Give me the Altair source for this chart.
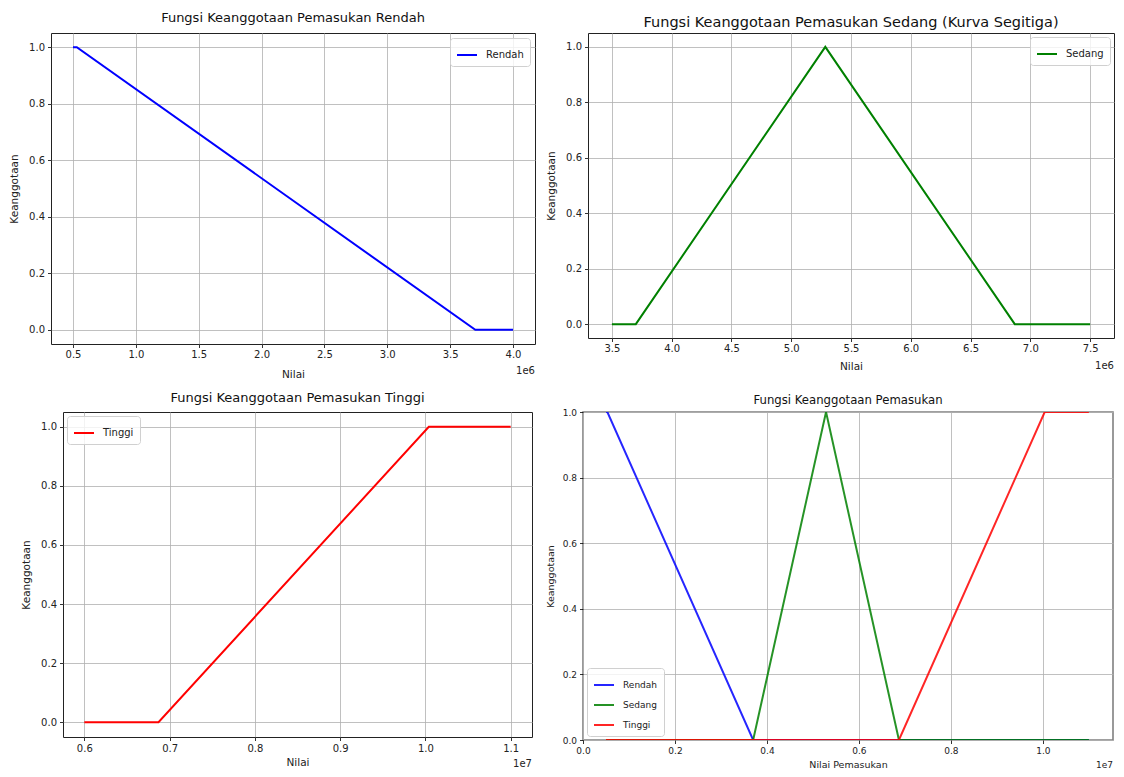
import altair as alt
import pandas as pd

FONT = "DejaVu Sans"

# ---- data ----
rendah_x = [500000, 530000, 3700000, 4000000]
rendah_y = [1, 1, 0, 0]
sedang_x = [3500000, 3700000, 5285000, 6870000, 7500000]
sedang_y = [0, 0, 1, 0, 0]
tinggi_x = [6000000, 6870000, 10040000, 11000000]
tinggi_y = [0, 0, 1, 1]

# combined plot, full universe
all_rendah_x = [500000, 530000, 3700000, 11000000]
all_rendah_y = [1, 1, 0, 0]
all_sedang_x = [500000, 3700000, 5285000, 6870000, 11000000]
all_sedang_y = [0, 0, 1, 0, 0]
all_tinggi_x = [500000, 6870000, 10040000, 11000000]
all_tinggi_y = [0, 0, 1, 1]

series_names = ["Rendah", "Sedang", "Tinggi"]
series_colors = ["#0000ff", "#008000", "#ff0000"]

y_ticks = [0.0, 0.2, 0.4, 0.6, 0.8, 1.0]
x_ticks_rendah = [500000, 1000000, 1500000, 2000000, 2500000, 3000000, 3500000, 4000000]
x_ticks_sedang = [3500000, 4000000, 4500000, 5000000, 5500000, 6000000, 6500000, 7000000, 7500000]
x_ticks_tinggi = [6000000, 7000000, 8000000, 9000000, 10000000, 11000000]
x_ticks_all = [0, 2000000, 4000000, 6000000, 8000000, 10000000]


def df(xs, ys, name):
    return pd.DataFrame({"x": xs, "y": ys, "seri": name})


def xaxis(ticks, div, title, fs=10, tp=5, lp=3):
    return alt.Axis(values=ticks, labelExpr=f"format(datum.value/{div}, '.1f')",
                    title=title, grid=True, gridColor="#b0b0b0", gridWidth=0.8,
                    domain=False, tickColor="black", tickSize=3.5, tickWidth=0.8,
                    labelFontSize=fs, titleFontSize=fs + 0.5, labelColor="#222",
                    titleColor="#222", titleFontWeight="normal", labelFont=FONT,
                    titleFont=FONT, labelPadding=lp, titlePadding=tp,
                    labelFlush=False, labelOverlap=False)


def yaxis(fs=10, tp=8, ext=24):
    return alt.Axis(values=y_ticks, format=".1f", title="Keanggotaan", grid=True,
                    gridColor="#b0b0b0", gridWidth=0.8, domain=False,
                    tickColor="black", tickSize=3.5, tickWidth=0.8,
                    labelFontSize=fs, titleFontSize=fs + 0.5, labelColor="#222",
                    titleColor="#222", titleFontWeight="normal", labelFont=FONT,
                    titleFont=FONT, labelPadding=3, titlePadding=tp,
                    minExtent=ext, maxExtent=ext, labelOverlap=False)


def legend(orient, fs=10, offset=4):
    return alt.Legend(orient=orient, title=None, symbolType="stroke", symbolSize=400,
                      symbolStrokeWidth=2, labelFontSize=fs, labelFont=FONT,
                      labelColor="#222", fillColor="rgba(255,255,255,0.8)",
                      strokeColor="#d0d0d0", cornerRadius=3, padding=6,
                      labelOffset=8, offset=offset, rowPadding=4)


def lines(data, xdom, ticks, div, xtitle, ydom, names, fs=10, leg="top-right",
          sw=2, opacity=1.0, loff=4, xtp=5, ytp=8, ext=24, lp=3):
    colors = [series_colors[series_names.index(n)] for n in names]
    return alt.Chart(data).mark_line(strokeWidth=sw, clip=True, opacity=opacity).encode(
        x=alt.X("x:Q", scale=alt.Scale(domain=xdom, nice=False, zero=False),
                axis=xaxis(ticks, div, xtitle, fs, xtp, lp)),
        y=alt.Y("y:Q", scale=alt.Scale(domain=ydom, nice=False, zero=False),
                axis=yaxis(fs, ytp, ext)),
        color=alt.Color("seri:N", scale=alt.Scale(domain=names, range=colors),
                        legend=legend(leg, fs, loff)),
    )


def exp_label(text, w, h, fs=10, dy=26):
    return alt.Chart(pd.DataFrame({"t": [text]})).mark_text(
        align="right", baseline="middle", fontSize=fs, font=FONT, color="#222"
    ).encode(text="t:N", x=alt.value(w), y=alt.value(h + dy))


def title(t, fs=13.5, off=6):
    return alt.TitleParams(t, fontSize=fs, font=FONT, fontWeight="normal",
                           color="#111", offset=off)


def indep(c):
    return c.resolve_scale(color="independent", x="independent",
                           y="independent").resolve_legend(color="independent")


Y5 = [-0.05, 1.05]

# Panel 1
W1, H1 = 484, 311
p1 = alt.layer(
    lines(df(rendah_x, rendah_y, "Rendah"), [325000, 4175000], x_ticks_rendah, 1e6,
          "Nilai", Y5, ["Rendah"], xtp=10, loff=5, lp=2),
    exp_label("1e6", W1, H1, dy=27),
).properties(width=W1, height=H1, title=title("Fungsi Keanggotaan Pemasukan Rendah", 13, 8))

# Panel 2
W2, H2 = 526, 305
p2 = alt.layer(
    lines(df(sedang_x, sedang_y, "Sedang"), [3300000, 7700000], x_ticks_sedang, 1e6,
          "Nilai", Y5, ["Sedang"], xtp=8, loff=4, lp=2),
    exp_label("1e6", W2, H2, dy=28),
).properties(width=W2, height=H2,
             title=title("Fungsi Keanggotaan Pemasukan Sedang (Kurva Segitiga)", 14.5, 3))

# Panel 3
W3, H3 = 469, 325
p3 = alt.layer(
    lines(df(tinggi_x, tinggi_y, "Tinggi"), [5750000, 11250000], x_ticks_tinggi, 1e7,
          "Nilai", Y5, ["Tinggi"], leg="top-left", xtp=4, loff=4),
    exp_label("1e7", W3, H3, dy=27),
).properties(width=W3, height=H3, title=title("Fungsi Keanggotaan Pemasukan Tinggi", 13, 7))

# Panel 4
W4, H4 = 530, 328
all_data = [df(all_rendah_x, all_rendah_y, "Rendah"),
            df(all_sedang_x, all_sedang_y, "Sedang"),
            df(all_tinggi_x, all_tinggi_y, "Tinggi")]
p4_layers = [lines(d, [0, 11525000], x_ticks_all, 1e7, "Nilai Pemasukan", [0, 1],
                   series_names, fs=9, leg="bottom-left", sw=2, opacity=0.85, loff=4,
                   xtp=4, ytp=6, ext=22)
             for d in all_data]
p4 = alt.layer(*p4_layers, exp_label("1e7", W4, H4, fs=9, dy=25)).properties(
    width=W4, height=H4, title=title("Fungsi Keanggotaan Pemasukan", 11.7, 1),
    view=alt.ViewBackground(stroke="#808080", strokeWidth=1.6),
)

# small invisible spacer that shifts the lower-left panel to the right
spacer = alt.Chart(pd.DataFrame({"t": [""]})).mark_text(opacity=0).encode(
    text="t:N").properties(width=2, height=2,
                           view=alt.ViewBackground(stroke="transparent"))

row1 = indep(alt.hconcat(p1, p2, spacing=9))
inner23 = indep(alt.hconcat(p3, p4, spacing=11))
row2 = indep(alt.hconcat(spacer, inner23, spacing=10, bounds="flush"))
chart = indep(alt.vconcat(row1, row2, spacing=10)).configure(
    font=FONT, padding={"top": 3, "left": 0, "right": 0, "bottom": 0}
).configure_view(stroke="#222", strokeWidth=1)

chart.save("out.html", embed_options={"renderer": "svg", "actions": False})
